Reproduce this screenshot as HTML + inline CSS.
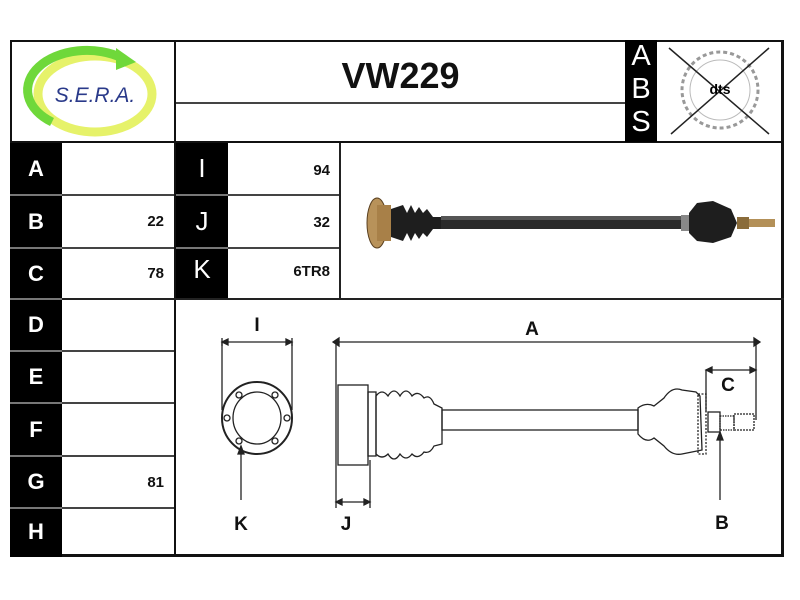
<!DOCTYPE html>
<html><head><meta charset="utf-8"><style>
body{margin:0;width:800px;height:600px;background:#fff;position:relative;overflow:hidden;font-family:"Liberation Sans",Arial,sans-serif}
.a{position:absolute;box-sizing:border-box}
.blk{background:#000;color:#fff;font-weight:bold;font-size:22px;display:flex;align-items:center;justify-content:center}
.val{font-weight:bold;font-size:15px;color:#111;display:flex;align-items:center;justify-content:flex-end;padding-right:10px}
.hl{position:absolute;height:2px;background:#444}
</style></head><body>
<div class="a" style="left:10px;top:40px;width:774px;height:517px;border:2px solid #111;border-right-width:3px;border-bottom-width:3px"></div>
<div class="a" style="left:174px;top:40px;width:2px;height:517px;background:#111"></div>
<div class="a" style="left:10px;top:141px;width:774px;height:2px;background:#111"></div>
<div class="a" style="left:176px;top:102px;width:449px;height:2px;background:#444"></div>
<div class="a" style="left:176px;top:50px;width:449px;height:52px;font-size:36px;font-weight:bold;display:flex;align-items:center;justify-content:center;color:#111">VW229</div>
<div class="a" style="left:625px;top:40px;width:32px;height:102px;background:#000;color:#fff;font-size:29px;line-height:33px;text-align:center">A<br>B<br>S</div>
<svg class="a" style="left:657px;top:42px" width="126" height="99">
<circle cx="63" cy="48" r="38" fill="none" stroke="#999" stroke-width="3" stroke-dasharray="4 3"/>
<circle cx="63" cy="48" r="30" fill="none" stroke="#bbb" stroke-width="1"/>
<line x1="12" y1="6" x2="112" y2="92" stroke="#222" stroke-width="1.5"/>
<line x1="112" y1="6" x2="14" y2="92" stroke="#222" stroke-width="1.5"/>
<text x="63" y="52" font-size="14" font-weight="bold" text-anchor="middle" font-family="Liberation Sans">dts</text>
</svg>
<svg class="a" style="left:12px;top:42px" width="162" height="99">
<ellipse cx="83" cy="52" rx="57" ry="38" fill="none" stroke="#e6f26a" stroke-width="9"/>
<path d="M40 80 A57 38 0 0 1 110 16" fill="none" stroke="#6fd83a" stroke-width="9"/>
<polygon points="104,6 124,20 104,28" fill="#6fd83a"/>
<text x="83" y="60" font-size="21" font-style="italic" text-anchor="middle" fill="#2a3a8a" font-family="Liberation Sans">S.E.R.A.</text>
</svg>
<div class="a blk" style="left:10px;top:143px;width:52px;height:414px;background:#000"></div>
<div class="a blk" style="left:10px;top:143px;width:52px;height:51px">A</div>
<div class="a blk" style="left:10px;top:196px;width:52px;height:51px">B</div>
<div class="a blk" style="left:10px;top:249px;width:52px;height:49px">C</div>
<div class="a blk" style="left:10px;top:300px;width:52px;height:50px">D</div>
<div class="a blk" style="left:10px;top:352px;width:52px;height:50px">E</div>
<div class="a blk" style="left:10px;top:404px;width:52px;height:51px">F</div>
<div class="a blk" style="left:10px;top:457px;width:52px;height:50px">G</div>
<div class="a blk" style="left:10px;top:509px;width:52px;height:46px">H</div>
<div class="a" style="left:10px;top:194px;width:52px;height:2px;background:#777"></div>
<div class="a" style="left:10px;top:247px;width:52px;height:2px;background:#777"></div>
<div class="a" style="left:10px;top:298px;width:52px;height:2px;background:#777"></div>
<div class="a" style="left:10px;top:350px;width:52px;height:2px;background:#777"></div>
<div class="a" style="left:10px;top:402px;width:52px;height:2px;background:#777"></div>
<div class="a" style="left:10px;top:455px;width:52px;height:2px;background:#777"></div>
<div class="a" style="left:10px;top:507px;width:52px;height:2px;background:#777"></div>
<div class="hl" style="left:62px;top:194px;width:112px"></div>
<div class="hl" style="left:62px;top:247px;width:112px"></div>
<div class="hl" style="left:62px;top:298px;width:722px;background:#222"></div>
<div class="hl" style="left:62px;top:350px;width:112px"></div>
<div class="hl" style="left:62px;top:402px;width:112px"></div>
<div class="hl" style="left:62px;top:455px;width:112px"></div>
<div class="hl" style="left:62px;top:507px;width:112px"></div>
<div class="a val" style="left:62px;top:196px;width:112px;height:51px">22</div>
<div class="a val" style="left:62px;top:249px;width:112px;height:49px">78</div>
<div class="a val" style="left:62px;top:457px;width:112px;height:50px">81</div>
<div class="a" style="left:176px;top:143px;width:52px;height:155px;background:#000"></div>
<div class="a blk" style="left:176px;top:143px;width:52px;height:51px;font-weight:normal;font-size:26px">I</div>
<div class="a blk" style="left:176px;top:196px;width:52px;height:51px;font-weight:normal;font-size:26px">J</div>
<div class="a blk" style="left:176px;top:249px;width:52px;height:40px;font-weight:normal;font-size:26px">K</div>
<div class="a" style="left:176px;top:194px;width:52px;height:2px;background:#777"></div>
<div class="a" style="left:176px;top:247px;width:52px;height:2px;background:#777"></div>
<div class="hl" style="left:228px;top:194px;width:112px"></div>
<div class="hl" style="left:228px;top:247px;width:112px"></div>
<div class="a" style="left:339px;top:143px;width:2px;height:155px;background:#222"></div>
<div class="a val" style="left:228px;top:145px;width:112px;height:50px">94</div>
<div class="a val" style="left:228px;top:198px;width:112px;height:49px">32</div>
<div class="a val" style="left:228px;top:249px;width:112px;height:45px">6TR8</div>
<svg class="a" style="left:341px;top:143px" width="442" height="155">
<ellipse cx="36" cy="80" rx="10" ry="25" fill="#b8925a" stroke="#5a4020"/>
<rect x="36" y="62" width="14" height="36" fill="#a88048"/>
<path d="M50 66 L62 62 L66 70 L70 62 L74 70 L78 64 L82 70 L86 66 L92 74 L100 74 L100 86 L92 86 L86 94 L82 90 L78 96 L74 90 L70 98 L66 90 L62 98 L50 94Z" fill="#1e1e1e"/>
<rect x="100" y="73" width="240" height="13" fill="#2a2a2a"/>
<rect x="100" y="73" width="240" height="4" fill="#555"/>
<rect x="340" y="72" width="8" height="16" fill="#888"/>
<path d="M348 70 L356 60 L372 58 L390 66 L396 80 L390 94 L372 100 L356 98 L348 90Z" fill="#1e1e1e"/>
<rect x="396" y="74" width="12" height="12" fill="#8a6c3a"/>
<rect x="408" y="76" width="26" height="8" fill="#b39058"/>
</svg>
<svg class="a" style="left:176px;top:300px" width="607" height="255" font-family="Liberation Sans" font-weight="bold">
<g stroke="#222" fill="none" stroke-width="1.3">
<line x1="46" y1="42" x2="116" y2="42"/><path d="M46 38v8M116 38v8"/>
<polygon points="46,42 52,39 52,45" fill="#222"/><polygon points="116,42 110,39 110,45" fill="#222"/>
<line x1="46" y1="42" x2="46" y2="110"/><line x1="116" y1="42" x2="116" y2="110"/>
<ellipse cx="81" cy="118" rx="35" ry="36" stroke-width="2"/>
<ellipse cx="81" cy="118" rx="24" ry="26"/>
<g fill="#fff"><circle cx="63" cy="95" r="3"/><circle cx="99" cy="95" r="3"/><circle cx="51" cy="118" r="3"/><circle cx="111" cy="118" r="3"/><circle cx="63" cy="141" r="3"/><circle cx="99" cy="141" r="3"/></g>
<line x1="65" y1="148" x2="65" y2="200"/><polygon points="65,146 62,154 68,154" fill="#222"/>
<line x1="157" y1="42" x2="584" y2="42"/>
<polygon points="157,42 163,38 163,46" fill="#222"/><polygon points="584,42 578,38 578,46" fill="#222"/>
<line x1="160" y1="42" x2="160" y2="208"/><line x1="580" y1="42" x2="580" y2="120"/>
<line x1="160" y1="202" x2="194" y2="202"/><line x1="194" y1="160" x2="194" y2="208"/>
<polygon points="160,202 166,199 166,205" fill="#222"/><polygon points="194,202 188,199 188,205" fill="#222"/>
<line x1="530" y1="70" x2="580" y2="70"/><line x1="530" y1="70" x2="530" y2="112"/>
<polygon points="530,70 536,67 536,73" fill="#222"/><polygon points="580,70 574,67 574,73" fill="#222"/>
<rect x="162" y="85" width="30" height="80"/>
<rect x="192" y="92" width="8" height="64"/>
<path d="M200 96 Q206 88 212 96 Q218 86 224 96 Q230 86 236 96 Q242 90 248 98 Q254 94 258 104 L266 108 L266 144 L258 146 Q254 154 248 152 Q242 160 236 154 Q230 162 224 154 Q218 164 212 154 Q206 160 200 154Z"/>
<rect x="266" y="110" width="196" height="20"/>
<path d="M462 108 Q470 102 478 106 L488 98 Q496 86 506 90 L520 92 L524 96 L526 150 L506 154 Q496 156 488 146 L478 138 Q470 144 462 134Z"/>
<rect x="522" y="94" width="8" height="60" stroke-dasharray="2 1.5"/>
<rect x="532" y="112" width="12" height="20"/>
<rect x="544" y="116" width="14" height="14" stroke-dasharray="1.5 1"/>
<rect x="558" y="114" width="20" height="16" stroke-dasharray="2 1"/>
<line x1="544" y1="136" x2="544" y2="200"/><polygon points="544,132 541,140 547,140" fill="#222"/>
</g>
<g font-size="19" text-anchor="middle" fill="#111">
<text x="81" y="31">I</text><text x="356" y="35">A</text><text x="552" y="91">C</text>
<text x="65" y="230">K</text><text x="170" y="230">J</text><text x="546" y="229">B</text>
</g>
</svg>
</body></html>
